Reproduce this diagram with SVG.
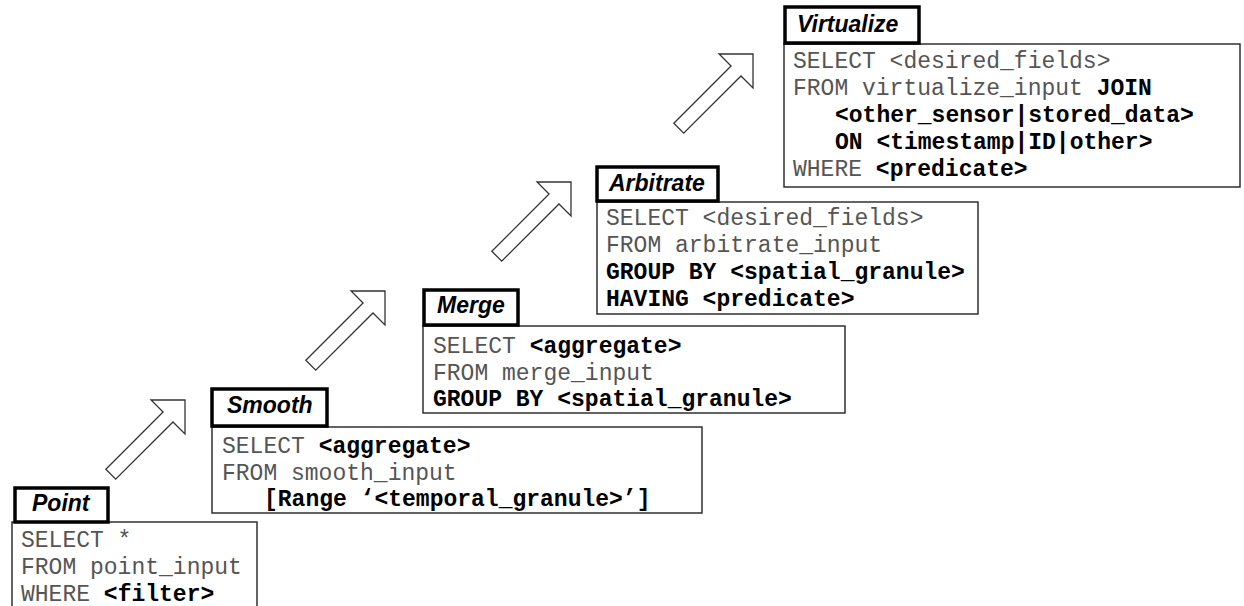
<svg xmlns="http://www.w3.org/2000/svg" xmlns:xlink="http://www.w3.org/1999/xlink" width="1244" height="606" viewBox="0 0 1244 606">
  <style>
    .code-box { fill: #ffffff; stroke: #222222; stroke-width: 1.4; }
    .label-box { fill: #ffffff; stroke: #000000; stroke-width: 3.5; }
    .label { font-family: "Liberation Sans", Arial, sans-serif; font-size: 23px; font-weight: bold; font-style: italic; fill: #000000; }
    .code { font-family: "Courier New", "Liberation Mono", monospace; font-size: 23px; fill: #555555; }
    .kw { font-weight: bold; fill: #000000; }
    .step-arrow { fill: #ffffff; stroke: #333333; stroke-width: 1.3; stroke-linejoin: miter; }
  </style>
  <defs>
    <!-- hollow block arrow, tip at the origin, pointing along +x -->
    <path id="block-arrow" d="M0,0 L-24,-24 L-24,-7 L-105,-7 L-105,7 L-24,7 L-24,24 Z"/>
  </defs>

  <rect width="1244" height="606" fill="#ffffff"/>

  <!-- connectors: arrows climbing from one stage to the next -->
  <g id="connectors">
    <use xlink:href="#block-arrow" class="step-arrow" transform="translate(185,400) rotate(-45)"/>
    <use xlink:href="#block-arrow" class="step-arrow" transform="translate(385,291) rotate(-45)"/>
    <use xlink:href="#block-arrow" class="step-arrow" transform="translate(571,182) rotate(-45)"/>
    <use xlink:href="#block-arrow" class="step-arrow" transform="translate(753,54) rotate(-45)"/>
  </g>

  <!-- Point stage -->
  <g id="point">
    <rect class="code-box" x="12" y="522" width="245" height="100"/>
    <rect class="label-box" x="15" y="488" width="93" height="34"/>
    <text class="label" x="32" y="511">Point</text>
    <text class="code" x="21" y="547">SELECT *</text>
    <text class="code" x="21" y="574">FROM point_input</text>
    <text class="code" x="21" y="601">WHERE <tspan class="kw">&lt;filter&gt;</tspan></text>
  </g>

  <!-- Smooth stage -->
  <g id="smooth">
    <rect class="code-box" x="212" y="427" width="490" height="86"/>
    <rect class="label-box" x="212" y="389" width="115" height="37"/>
    <text class="label" x="227" y="413">Smooth</text>
    <text class="code" x="222" y="453">SELECT <tspan class="kw">&lt;aggregate&gt;</tspan></text>
    <text class="code" x="222" y="480">FROM smooth_input</text>
    <text class="code kw" x="264" y="506">[Range ‘&lt;temporal_granule&gt;’]</text>
  </g>

  <!-- Merge stage -->
  <g id="merge">
    <rect class="code-box" x="423" y="326" width="422" height="87"/>
    <rect class="label-box" x="424" y="290" width="94" height="35"/>
    <text class="label" x="437" y="313">Merge</text>
    <text class="code" x="433" y="353">SELECT <tspan class="kw">&lt;aggregate&gt;</tspan></text>
    <text class="code" x="433" y="380">FROM merge_input</text>
    <text class="code kw" x="433" y="406">GROUP BY &lt;spatial_granule&gt;</text>
  </g>

  <!-- Arbitrate stage -->
  <g id="arbitrate">
    <rect class="code-box" x="597" y="202" width="381" height="112"/>
    <rect class="label-box" x="597" y="167" width="121" height="34"/>
    <text class="label" x="609" y="191">Arbitrate</text>
    <text class="code" x="606" y="225">SELECT &lt;desired_fields&gt;</text>
    <text class="code" x="606" y="252">FROM arbitrate_input</text>
    <text class="code kw" x="606" y="279">GROUP BY &lt;spatial_granule&gt;</text>
    <text class="code kw" x="606" y="306">HAVING &lt;predicate&gt;</text>
  </g>

  <!-- Virtualize stage -->
  <g id="virtualize">
    <rect class="code-box" x="784" y="44" width="456" height="143"/>
    <rect class="label-box" x="785" y="7" width="134" height="36"/>
    <text class="label" x="797" y="32">Virtualize</text>
    <text class="code" x="793" y="68">SELECT &lt;desired_fields&gt;</text>
    <text class="code" x="793" y="95">FROM virtualize_input <tspan class="kw">JOIN</tspan></text>
    <text class="code kw" x="835" y="122">&lt;other_sensor|stored_data&gt;</text>
    <text class="code kw" x="835" y="149">ON &lt;timestamp|ID|other&gt;</text>
    <text class="code" x="793" y="176">WHERE <tspan class="kw">&lt;predicate&gt;</tspan></text>
  </g>
</svg>
